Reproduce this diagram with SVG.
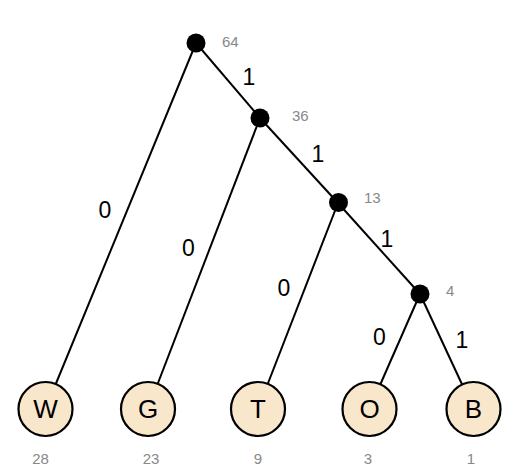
<svg xmlns="http://www.w3.org/2000/svg" width="520" height="468" viewBox="0 0 520 468">
<style>
.edge{stroke:#000;stroke-width:2;fill:none}
.inner{fill:#000}
.leaf{fill:#f9e7cc;stroke:#000;stroke-width:2.2}
.letter{font-family:"Liberation Sans",Arial,sans-serif;font-size:26px;fill:#000;text-anchor:middle}
.wt{font-family:"Liberation Sans",Arial,sans-serif;font-size:15px;fill:#888}
.lw{font-family:"Liberation Sans",Arial,sans-serif;font-size:15px;fill:#888;text-anchor:middle}
.bit{font-family:"Liberation Sans",Arial,sans-serif;font-size:23px;fill:#000;text-anchor:middle}
</style>
<rect width="520" height="468" fill="#fff"/>
<g id="connectors">
<line class="edge" x1="196" y1="43" x2="260" y2="118"/>
<line class="edge" x1="260" y1="118" x2="338" y2="203"/>
<line class="edge" x1="338" y1="203" x2="420" y2="294"/>
<line class="edge" x1="196" y1="43" x2="45.5" y2="409"/>
<line class="edge" x1="260" y1="118" x2="148" y2="409"/>
<line class="edge" x1="338" y1="203" x2="258" y2="409"/>
<line class="edge" x1="420" y1="294" x2="369.5" y2="409"/>
<line class="edge" x1="420" y1="294" x2="473.5" y2="409"/>
<text class="bit" x="249" y="85">1</text>
<text class="bit" x="318" y="162">1</text>
<text class="bit" x="387" y="247">1</text>
<text class="bit" x="462" y="348">1</text>
<text class="bit" x="105" y="218">0</text>
<text class="bit" x="188.5" y="256">0</text>
<text class="bit" x="284" y="296">0</text>
<text class="bit" x="379.5" y="345">0</text>
</g>
<g id="n64"><circle class="inner" cx="196" cy="43" r="9.5"/><text class="wt" x="222" y="47">64</text></g>
<g id="n36"><circle class="inner" cx="260" cy="118" r="9.5"/><text class="wt" x="292" y="121">36</text></g>
<g id="n13"><circle class="inner" cx="338.5" cy="202.5" r="9.5"/><text class="wt" x="364" y="203">13</text></g>
<g id="n4"><circle class="inner" cx="420" cy="294" r="9.5"/><text class="wt" x="446" y="296">4</text></g>
<g id="W"><circle class="leaf" cx="45.5" cy="409" r="27"/><text class="letter" x="45.5" y="418">W</text><text class="lw" x="40.5" y="464">28</text></g>
<g id="G"><circle class="leaf" cx="148" cy="409" r="27"/><text class="letter" x="148" y="418">G</text><text class="lw" x="151" y="464">23</text></g>
<g id="T"><circle class="leaf" cx="258" cy="409" r="27"/><text class="letter" x="258" y="418">T</text><text class="lw" x="258" y="464">9</text></g>
<g id="O"><circle class="leaf" cx="369.5" cy="409" r="27"/><text class="letter" x="369.5" y="418">O</text><text class="lw" x="368" y="464">3</text></g>
<g id="B"><circle class="leaf" cx="473.5" cy="409" r="27"/><text class="letter" x="473.5" y="418">B</text><text class="lw" x="471" y="464">1</text></g>
</svg>
